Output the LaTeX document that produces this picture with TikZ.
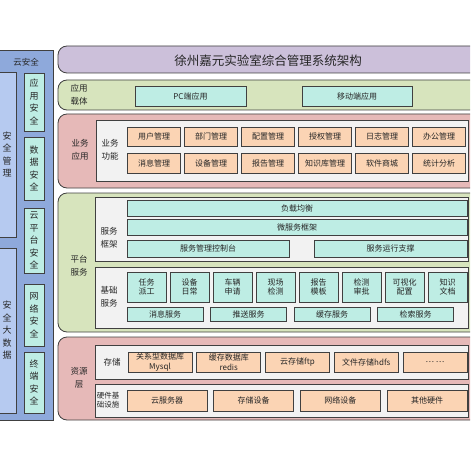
\documentclass[tikz,border=0pt]{standalone}
\usepackage{fontspec}
\newfontfamily\cjk{Noto Sans CJK SC}
\definecolor{cLine}{RGB}{64,64,64}
\definecolor{cTitle}{RGB}{204,192,218}
\definecolor{cGreen}{RGB}{215,228,189}
\definecolor{cPink}{RGB}{230,185,184}
\definecolor{cPanel}{RGB}{242,242,242}
\definecolor{cPeach}{RGB}{251,212,180}
\definecolor{cTeal}{RGB}{190,237,228}
\definecolor{cBlueD}{RGB}{142,169,219}
\definecolor{cBlueL}{RGB}{182,202,240}

\begin{document}
\begin{tikzpicture}[
  x=1pt, y=-1pt,
  band/.style={draw=cLine, fill=#1, rounded corners=9pt, line width=0.8pt},
  panel/.style={draw=cLine, fill=cPanel, line width=0.8pt},
  cell/.style 2 args={draw=cLine, fill=#1, line width=0.9pt, minimum width=#2,
    inner sep=0pt, align=center, text=black!85,
    font=\cjk\fontsize{8}{9.5}\selectfont},
  secbox/.style 2 args={draw=cLine, fill=#1, line width=0.9pt, minimum width=#2,
    inner sep=0pt, align=center, text=black!85,
    font=\cjk\fontsize{9}{12.5}\selectfont},
  lbl/.style={align=center, inner sep=0pt, text=black!85,
    font=\cjk\fontsize{8.5}{13}\selectfont},
]
\useasboundingbox (0,0) rectangle (470,470);
\clip (0,0) rectangle (470,470);

% Cloud security column.
\draw[draw=cLine, fill=cBlueD, line width=0.8pt] (-2,50) rectangle (53,420);
\node[lbl] (cloudsec) at (26,62) {云安全};
\node[secbox={cBlueL}{18pt}, minimum height=165pt] (secmgmt) at (7,154.5)
  {安\\全\\管\\理};
\node[secbox={cBlueL}{18pt}, minimum height=165pt] (secdata) at (7,330.5)
  {安\\全\\大\\数\\据};
\node[secbox={cTeal}{20pt}, minimum height=58pt] (appsec) at (34,102)
  {应\\用\\安\\全};
\node[secbox={cTeal}{20pt}, minimum height=63pt] (datasec) at (34,168.5)
  {数\\据\\安\\全};
\node[secbox={cTeal}{20pt}, minimum height=65pt] (platsec) at (34,240.5)
  {云\\平\\台\\安\\全};
\node[secbox={cTeal}{20pt}, minimum height=62pt] (netsec) at (34,315)
  {网\\络\\安\\全};
\node[secbox={cTeal}{20pt}, minimum height=61pt] (termsec) at (34,382.5)
  {终\\端\\安\\全};

% Title banner.
\draw[band=cTitle] (58,46) rectangle (490,73);
\node[lbl, font=\cjk\fontsize{12.5}{14}\selectfont] (title) at (268,61)
  {徐州嘉元实验室综合管理系统架构};

% Application carrier.
\draw[band=cGreen] (58,80) rectangle (490,110);
\node[lbl] (carrier) at (79,95) {应用\\载体};
\node[cell={cTeal}{111pt}, minimum height=20pt] (pcapp) at (190.5,96) {PC端应用};
\node[cell={cTeal}{110pt}, minimum height=20pt] (mobapp) at (357,96) {移动端应用};

% Business applications.
\draw[band=cPink] (58,114) rectangle (490,188);
\draw[panel] (96,120) rectangle (468,181);
\node[lbl] (bizapp) at (80,150) {业务\\应用};
\node[lbl] (bizfunc) at (110,150) {业务\\功能};
\node[cell={cPeach}{53pt}, minimum height=19pt] (user) at (154,136.5) {用户管理};
\node[cell={cPeach}{53pt}, minimum height=19pt] (dept) at (211,136.5) {部门管理};
\node[cell={cPeach}{53pt}, minimum height=19pt] (config) at (268,136.5) {配置管理};
\node[cell={cPeach}{53pt}, minimum height=19pt] (auth) at (325,136.5) {授权管理};
\node[cell={cPeach}{53pt}, minimum height=19pt] (log) at (382,136.5) {日志管理};
\node[cell={cPeach}{53pt}, minimum height=19pt] (office) at (439,136.5) {办公管理};
\node[cell={cPeach}{53pt}, minimum height=20pt] (msg) at (154,163) {消息管理};
\node[cell={cPeach}{53pt}, minimum height=20pt] (equip) at (211,163) {设备管理};
\node[cell={cPeach}{53pt}, minimum height=20pt] (report) at (268,163) {报告管理};
\node[cell={cPeach}{53pt}, minimum height=20pt] (know) at (325,163) {知识库管理};
\node[cell={cPeach}{53pt}, minimum height=20pt] (shop) at (382,163) {软件商城};
\node[cell={cPeach}{53pt}, minimum height=20pt] (stats) at (439,163) {统计分析};

% Platform services.
\draw[band=cGreen] (58,193) rectangle (490,332);
\node[lbl] (platform) at (79,266) {平台\\服务};
\draw[panel] (95,197) rectangle (468,261);
\node[lbl] (frame) at (109,238) {服务\\框架};
\node[cell={cTeal}{340pt}, minimum height=16pt] (balance) at (297,208) {负载均衡};
\node[cell={cTeal}{340pt}, minimum height=16pt] (micro) at (297,227.5) {微服务框架};
\node[cell={cTeal}{162pt}, minimum height=17pt] (console) at (208,248.5) {服务管理控制台};
\node[cell={cTeal}{153pt}, minimum height=17pt] (runtime) at (390.5,248.5) {服务运行支撑};

\draw[panel] (95,267) rectangle (468,328);
\node[lbl] (basic) at (109,297) {基础\\服务};
\node[cell={cTeal}{39pt}, minimum height=30pt] (task) at (146.5,287) {任务\\派工};
\node[cell={cTeal}{39pt}, minimum height=30pt] (daily) at (189.5,287) {设备\\日常};
\node[cell={cTeal}{39pt}, minimum height=30pt] (vehicle) at (232.5,287) {车辆\\申请};
\node[cell={cTeal}{39pt}, minimum height=30pt] (field) at (275.5,287) {现场\\检测};
\node[cell={cTeal}{39pt}, minimum height=30pt] (tmpl) at (318.5,287) {报告\\模板};
\node[cell={cTeal}{39pt}, minimum height=30pt] (approve) at (361.5,287) {检测\\审批};
\node[cell={cTeal}{39pt}, minimum height=30pt] (visual) at (404.5,287) {可视化\\配置};
\node[cell={cTeal}{39pt}, minimum height=30pt] (docs) at (447.5,287) {知识\\文档};
\node[cell={cTeal}{76pt}, minimum height=14pt] (msgsvc) at (165,314) {消息服务};
\node[cell={cTeal}{76pt}, minimum height=14pt] (push) at (248.5,314) {推送服务};
\node[cell={cTeal}{76pt}, minimum height=14pt] (cache) at (332,314) {缓存服务};
\node[cell={cTeal}{76pt}, minimum height=14pt] (search) at (415.5,314) {检索服务};

% Resource layer.
\draw[band=cPink] (58,337) rectangle (490,420);
\node[lbl] (resource) at (79,378) {资源\\层};
\draw[panel] (95,345) rectangle (468,379);
\node[lbl] (storage) at (112,362) {存储};
\node[cell={cPeach}{64pt}, minimum height=20pt] (mysql) at (160,362) {关系型数据库\\Mysql};
\node[cell={cPeach}{64pt}, minimum height=20pt] (redis) at (228.75,362) {缓存数据库\\redis};
\node[cell={cPeach}{64pt}, minimum height=20pt] (ftp) at (297.5,362) {云存储ftp};
\node[cell={cPeach}{64pt}, minimum height=20pt] (hdfs) at (366.25,362) {文件存储hdfs};
\node[cell={cPeach}{64pt}, minimum height=20pt] (more) at (435,362) {\dots\ \dots};

\draw[panel] (95,384) rectangle (468,417);
\node[lbl, font=\cjk\fontsize{7.5}{9}\selectfont] (infra) at (108,400.5) {硬件基\\础设施};
\node[cell={cPeach}{80pt}, minimum height=21pt] (server) at (167,400.5) {云服务器};
\node[cell={cPeach}{80pt}, minimum height=21pt] (disk) at (253.7,400.5) {存储设备};
\node[cell={cPeach}{80pt}, minimum height=21pt] (network) at (340.4,400.5) {网络设备};
\node[cell={cPeach}{80pt}, minimum height=21pt] (other) at (427,400.5) {其他硬件};

\end{tikzpicture}
\end{document}
